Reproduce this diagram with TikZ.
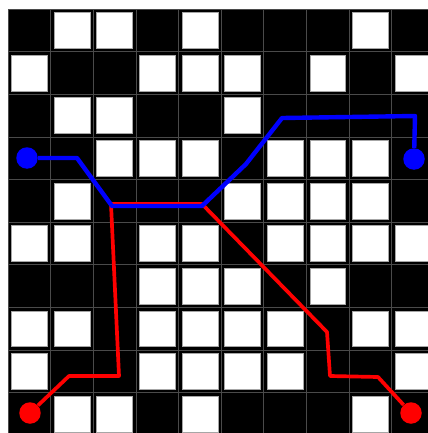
\documentclass[tikz,border=0pt]{standalone}
\usetikzlibrary{positioning}
\definecolor{pathblue}{HTML}{0000FF}
\definecolor{pathred}{HTML}{FF0000}
\definecolor{gridgray}{HTML}{4A4A4A}
\tikzset{
  freecell/.style={
    fill=white,
    draw=gray!70,
    line width=0.4pt
  },
  gridline/.style={
    draw=gridgray,
    line width=0.5pt
  },
  endpoint/.style={
    circle,
    inner sep=0pt,
    minimum size=0.43cm
  },
  bluedot/.style={endpoint, fill=pathblue},
  reddot/.style={endpoint, fill=pathred},
  bluepath/.style={
    draw=pathblue,
    line width=2.5pt,
    line join=round
  },
  redpath/.style={
    draw=pathred,
    line width=2.1pt,
    line join=round
  }
}

\begin{document}
\begin{tikzpicture}[x=0.02cm, y=-0.02cm]
    \useasboundingbox (0,0) rectangle (428,433);
    \begin{scope}
        \clip (0,0) rectangle (428,433);
        \fill[black] (8,9) rectangle (435,436);
        % grid lines
        \foreach \k in {0,...,10} {
            \draw[gridline] ({8+42.65*\k},9) -- ({8+42.65*\k},436);
            \draw[gridline] (8,{9+42.65*\k}) -- (435,{9+42.65*\k});
        }
        % free cells, row / columns
        \foreach \r/\cols in {0/{1,2,4,8}, 1/{0,3,4,5,7,9}, 2/{1,2,5},
                3/{2,3,4,6,7,8}, 4/{1,5,6,7,8}, 5/{0,1,3,4,6,7,8,9},
                6/{3,4,5,7}, 7/{0,1,3,4,5,6,8,9}, 8/{0,3,4,5,6,9},
                9/{1,2,4,8}} {
            \foreach \c in \cols {
                \draw[freecell] ({8+42.65*\c+3.4},{9+42.65*\r+3.4})
                    rectangle ({8+42.65*(\c+1)-3.4},{9+42.65*(\r+1)-3.4});
            }
        }
    \end{scope}

    \node[reddot] (redstart) at (30,413) {};
    \node[reddot] (redgoal) at (411,413) {};
    \node[bluedot] (bluestart) at (27,158) {};
    \node[bluedot] (bluegoal) at (414,159) {};

    \coordinate (r1) at (69,376);
    \coordinate (r2) at (119,376);
    \coordinate (r3) at (111,204);
    \coordinate (r4) at (202,204);
    \coordinate (r5) at (327,332);
    \coordinate (r6) at (330,376);
    \coordinate (r7) at (378,377);

    \coordinate (b1) at (77,158);
    \coordinate (b2) at (112,206);
    \coordinate (b3) at (202,206);
    \coordinate (b4) at (246,164);
    \coordinate (b5) at (282,118);
    \coordinate (b6) at (415,116);

    \draw[redpath] (redstart) -- (r1) -- (r2) -- (r3) -- (r4) -- (r5) -- (r6) -- (r7) -- (redgoal);
    \draw[bluepath] (bluestart) -- (b1) -- (b2) -- (b3) -- (b4) -- (b5) -- (b6) -- (bluegoal);
\end{tikzpicture}
\end{document}
